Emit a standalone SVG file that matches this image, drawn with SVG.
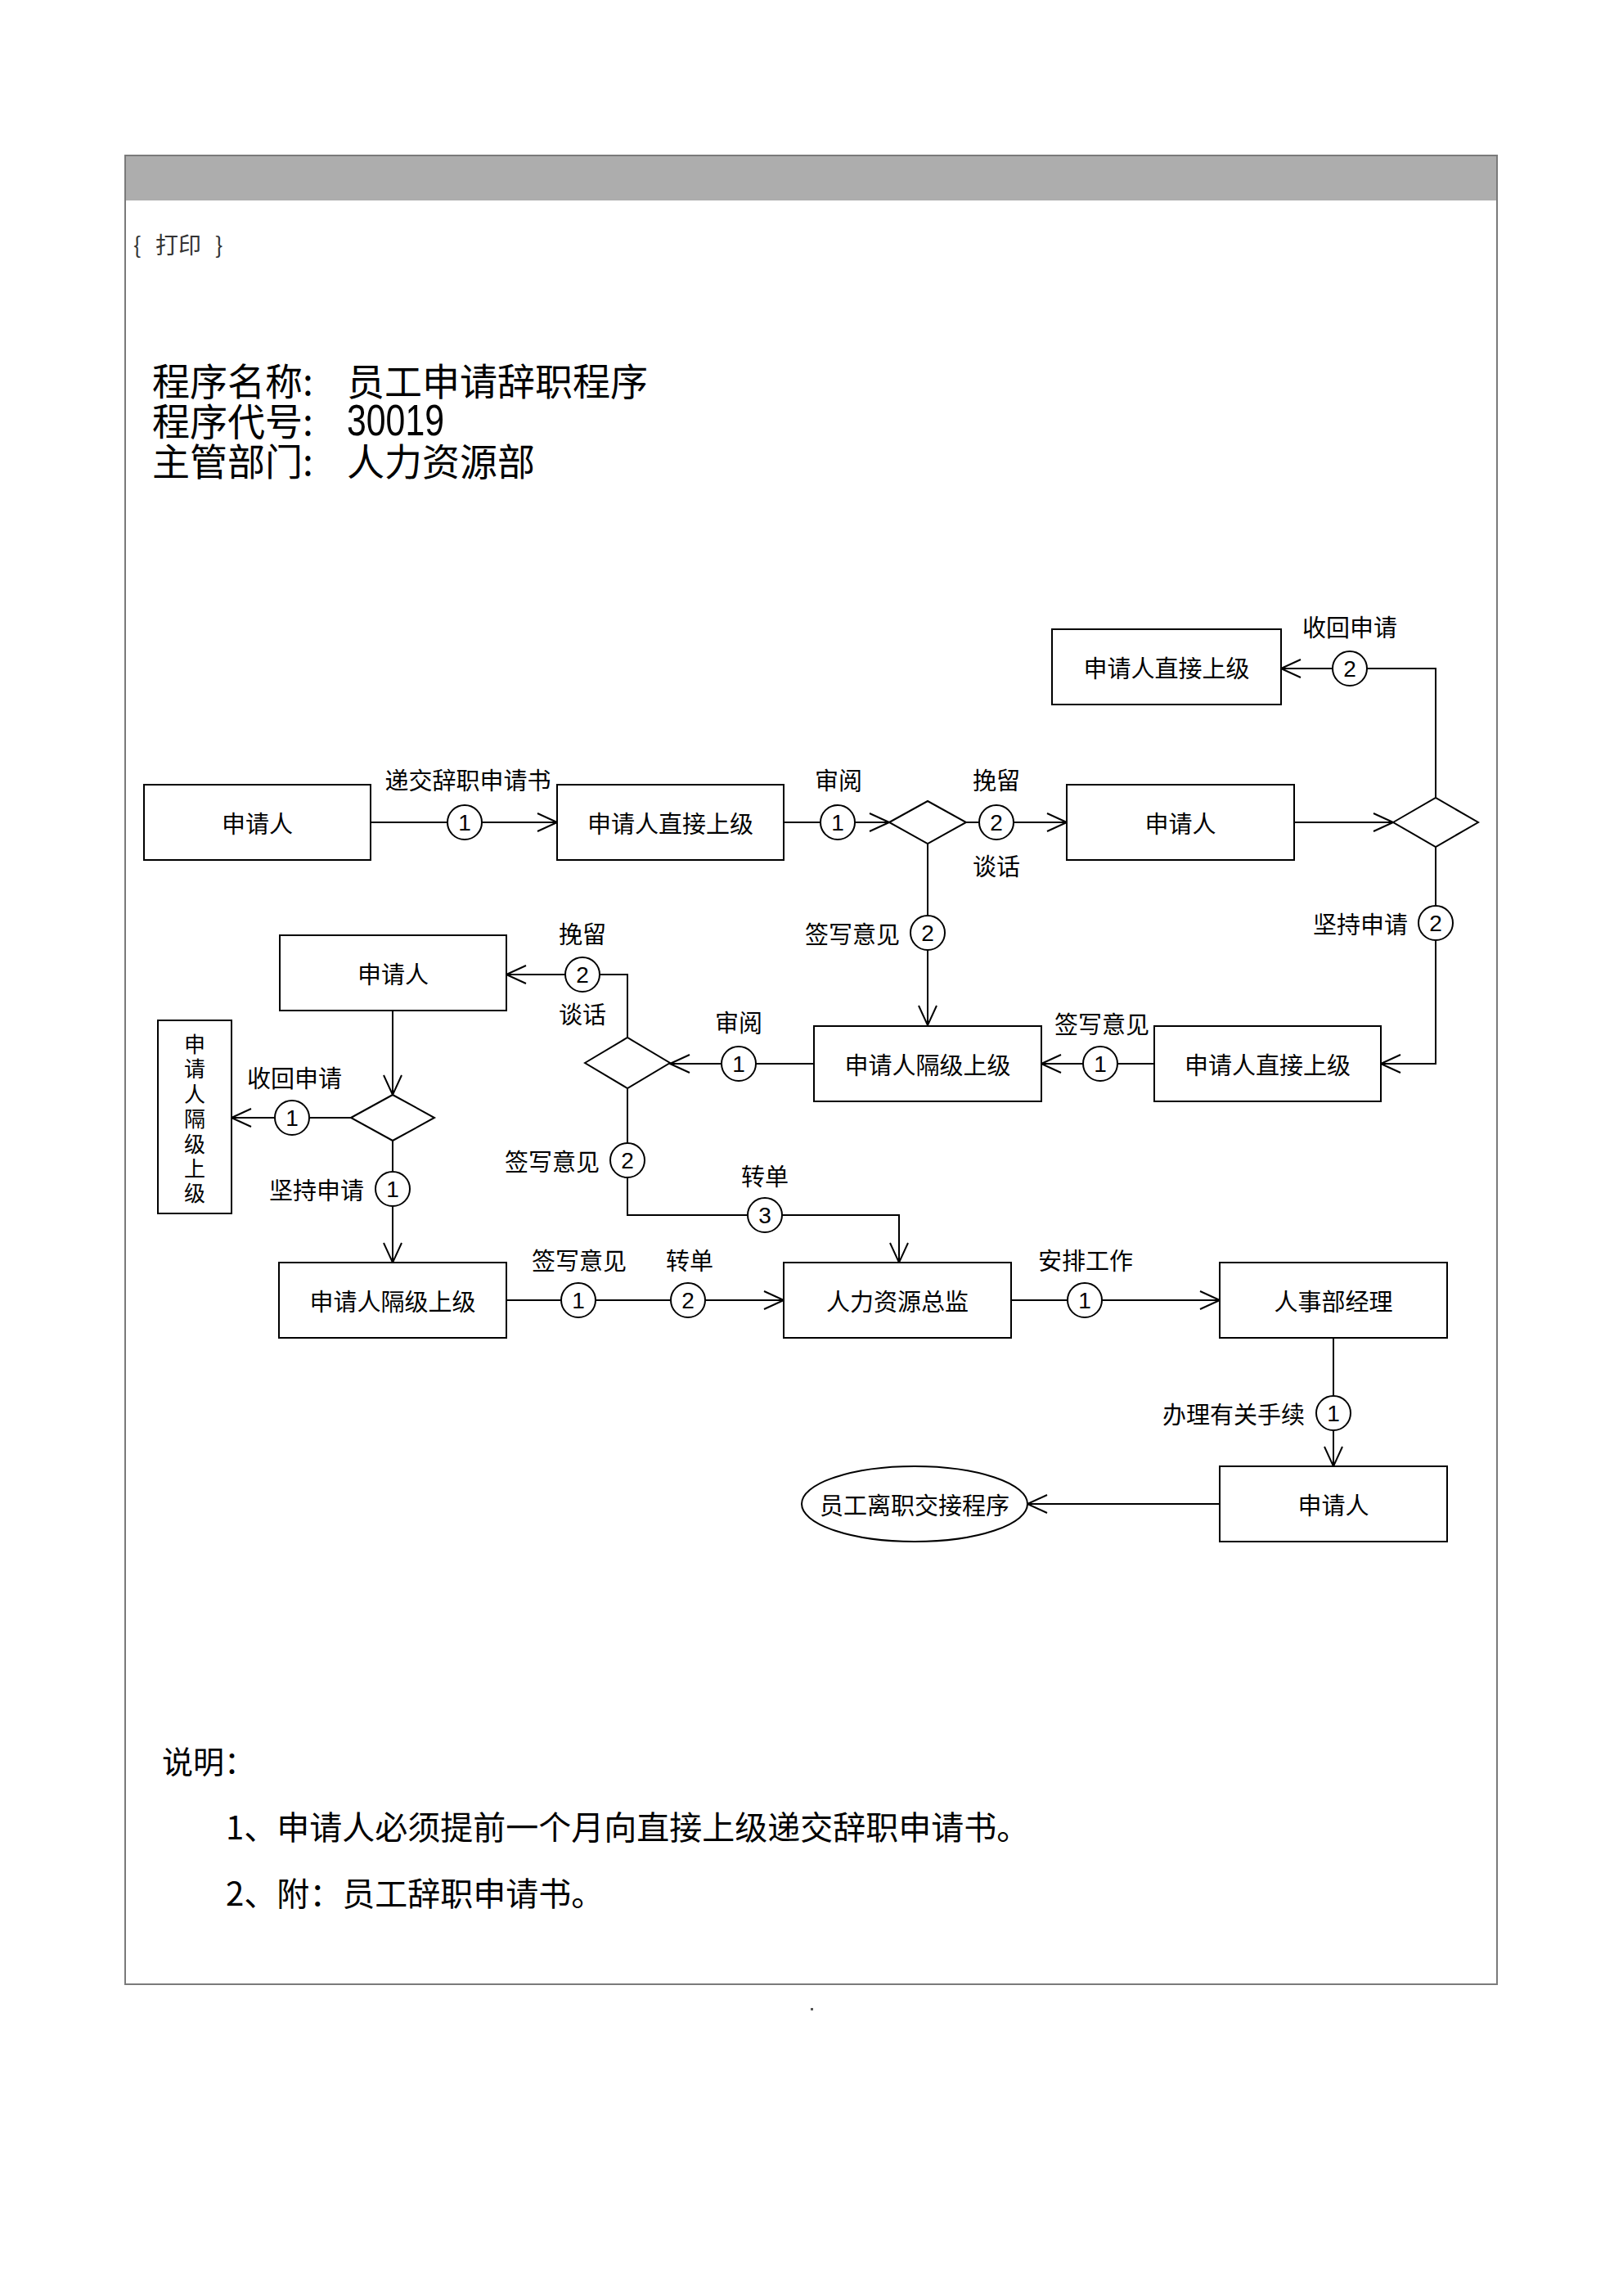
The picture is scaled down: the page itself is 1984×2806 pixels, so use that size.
<svg xmlns="http://www.w3.org/2000/svg" width="1984" height="2806" viewBox="0 0 1984 2806">
<defs>
<style>
.box{fill:#fff;stroke:#000;stroke-width:2}
.ln{fill:none;stroke:#000;stroke-width:2}
.arr{marker-end:url(#ah)}
.cir{fill:#fff;stroke:#000;stroke-width:2}
.lbl{font-family:"Noto Sans CJK SC","Noto Sans CJK JP",sans-serif;font-size:29px;fill:#000;text-anchor:middle;dominant-baseline:central}
.lend{text-anchor:end}
.vlbl{font-family:"Noto Sans CJK SC","Noto Sans CJK JP",sans-serif;font-size:26px;fill:#000;text-anchor:middle;dominant-baseline:central}
.num{font-family:"Liberation Sans",Arial,sans-serif;font-size:28px;fill:#000;text-anchor:middle;dominant-baseline:central}
.title{font-family:"Noto Sans CJK SC","Noto Sans CJK JP",sans-serif;font-size:46px;fill:#000;dominant-baseline:central}
.note{font-family:"Noto Sans CJK SC","Noto Sans CJK JP",sans-serif;font-size:40px;fill:#000;dominant-baseline:central}
</style>
<marker id="ah" markerUnits="userSpaceOnUse" markerWidth="28" markerHeight="26" viewBox="0 0 28 26" refX="26" refY="13" orient="auto">
<path d="M2,2 L26,13 L2,24" fill="none" stroke="#000" stroke-width="2"/>
</marker>
</defs>
<rect x="0" y="0" width="1984" height="2806" fill="#fff"/>

<g id="page">
<rect x="153" y="190" width="1677" height="2235" fill="none" stroke="#7a7a7a" stroke-width="2"/>
<rect x="154" y="191" width="1675" height="54" fill="#adadad"/>
<text style="font-family:'Noto Sans CJK SC',sans-serif;font-size:28px;fill:#333;dominant-baseline:central"><tspan x="163" y="298">{</tspan><tspan x="190" y="298">打印</tspan><tspan x="263" y="298">}</tspan></text>
<rect x="991" y="2454" width="3" height="3" fill="#555"/>
</g>

<g id="header">
<text class="title" x="186" y="463">程序名称:</text>
<text class="title" x="424" y="463">员工申请辞职程序</text>
<text class="title" x="186" y="512">程序代号:</text>
<text x="424" y="532" textLength="119" lengthAdjust="spacingAndGlyphs" style="font-family:'Liberation Sans',Arial,sans-serif;font-size:54px;fill:#000">30019</text>
<text class="title" x="186" y="561">主管部门:</text>
<text class="title" x="424" y="561">人力资源部</text>
</g>

<g id="connectors">
<line class="ln arr" x1="453" y1="1005" x2="681" y2="1005"/>
<line class="ln arr" x1="958" y1="1005" x2="1087" y2="1005"/>
<line class="ln arr" x1="1181" y1="1005" x2="1304" y2="1005"/>
<line class="ln arr" x1="1582" y1="1005" x2="1703" y2="1005"/>
<polyline class="ln arr" points="1755,975 1755,817 1566,817"/>
<polyline class="ln arr" points="1755,1035 1755,1300 1688,1300"/>
<line class="ln arr" x1="1411" y1="1300" x2="1273" y2="1300"/>
<line class="ln arr" x1="1134" y1="1031" x2="1134" y2="1253"/>
<line class="ln arr" x1="995" y1="1300" x2="819" y2="1300"/>
<polyline class="ln arr" points="767,1268 767,1191 619,1191"/>
<line class="ln arr" x1="480" y1="1235" x2="480" y2="1338"/>
<line class="ln arr" x1="429" y1="1366" x2="283" y2="1366"/>
<line class="ln arr" x1="480" y1="1394" x2="480" y2="1543"/>
<polyline class="ln arr" points="767,1330 767,1485 1099,1485 1099,1543"/>
<line class="ln arr" x1="619" y1="1589" x2="958" y2="1589"/>
<line class="ln arr" x1="1236" y1="1589" x2="1491" y2="1589"/>
<line class="ln arr" x1="1630" y1="1635" x2="1630" y2="1792"/>
<line class="ln arr" x1="1491" y1="1838" x2="1256" y2="1838"/>

<g id="conn-labels">
<circle class="cir" cx="568" cy="1005" r="21"/><text class="num" x="568" y="1005">1</text>
<text class="lbl" x="572" y="952">递交辞职申请书</text>
<circle class="cir" cx="1024" cy="1005" r="21"/><text class="num" x="1024" y="1005">1</text>
<text class="lbl" x="1025" y="952">审阅</text>
<circle class="cir" cx="1218" cy="1005" r="21"/><text class="num" x="1218" y="1005">2</text>
<text class="lbl" x="1218" y="952">挽留</text>
<text class="lbl" x="1218" y="1057">谈话</text>
<circle class="cir" cx="1650" cy="817" r="21"/><text class="num" x="1650" y="817">2</text>
<text class="lbl" x="1650" y="765">收回申请</text>
<circle class="cir" cx="1755" cy="1128" r="21"/><text class="num" x="1755" y="1128">2</text>
<text class="lbl lend" x="1721" y="1128">坚持申请</text>
<circle class="cir" cx="1345" cy="1300" r="21"/><text class="num" x="1345" y="1300">1</text>
<text class="lbl" x="1347" y="1250">签写意见</text>
<circle class="cir" cx="1134" cy="1140" r="21"/><text class="num" x="1134" y="1140">2</text>
<text class="lbl lend" x="1100" y="1140">签写意见</text>
<circle class="cir" cx="903" cy="1300" r="21"/><text class="num" x="903" y="1300">1</text>
<text class="lbl" x="903" y="1248">审阅</text>
<circle class="cir" cx="712" cy="1191" r="21"/><text class="num" x="712" y="1191">2</text>
<text class="lbl" x="712" y="1140">挽留</text>
<text class="lbl" x="712" y="1238">谈话</text>
<circle class="cir" cx="357" cy="1366" r="21"/><text class="num" x="357" y="1366">1</text>
<text class="lbl" x="360" y="1316">收回申请</text>
<circle class="cir" cx="480" cy="1453" r="21"/><text class="num" x="480" y="1453">1</text>
<text class="lbl lend" x="445" y="1453">坚持申请</text>
<circle class="cir" cx="767" cy="1418" r="21"/><text class="num" x="767" y="1418">2</text>
<text class="lbl lend" x="733" y="1418">签写意见</text>
<circle class="cir" cx="935" cy="1485" r="21"/><text class="num" x="935" y="1485">3</text>
<text class="lbl" x="935" y="1436">转单</text>
<circle class="cir" cx="707" cy="1589" r="21"/><text class="num" x="707" y="1589">1</text>
<text class="lbl" x="708" y="1539">签写意见</text>
<circle class="cir" cx="841" cy="1589" r="21"/><text class="num" x="841" y="1589">2</text>
<text class="lbl" x="843" y="1539">转单</text>
<circle class="cir" cx="1326" cy="1589" r="21"/><text class="num" x="1326" y="1589">1</text>
<text class="lbl" x="1327" y="1539">安排工作</text>
<circle class="cir" cx="1630" cy="1727" r="21"/><text class="num" x="1630" y="1727">1</text>
<text class="lbl lend" x="1595" y="1727">办理有关手续</text>
</g>
</g>

<g id="n-applicant-1"><rect class="box" x="176" y="959" width="277" height="92"/><text class="lbl" x="314.5" y="1005">申请人</text></g>
<g id="n-direct-1"><rect class="box" x="681" y="959" width="277" height="92"/><text class="lbl" x="819.5" y="1005">申请人直接上级</text></g>
<g id="d1"><polygon class="box" points="1087,1005 1134,979 1181,1005 1134,1031"/></g>
<g id="n-applicant-2"><rect class="box" x="1304" y="959" width="278" height="92"/><text class="lbl" x="1443" y="1005">申请人</text></g>
<g id="d2"><polygon class="box" points="1703,1005 1755,975 1807,1005 1755,1035"/></g>
<g id="n-direct-2"><rect class="box" x="1286" y="769" width="280" height="92"/><text class="lbl" x="1426" y="815">申请人直接上级</text></g>
<g id="n-direct-3"><rect class="box" x="1411" y="1254" width="277" height="92"/><text class="lbl" x="1549.5" y="1300">申请人直接上级</text></g>
<g id="n-skip-1"><rect class="box" x="995" y="1254" width="278" height="92"/><text class="lbl" x="1134" y="1300">申请人隔级上级</text></g>
<g id="d3"><polygon class="box" points="715,1299 767,1268 819,1299 767,1330"/></g>
<g id="n-applicant-3"><rect class="box" x="342" y="1143" width="277" height="92"/><text class="lbl" x="480.5" y="1189">申请人</text></g>
<g id="d4"><polygon class="box" points="429,1366 480,1338 531,1366 480,1394"/></g>
<g id="n-skip-vertical"><rect class="box" x="193" y="1247" width="90" height="236"/>
<text class="vlbl" x="238" y="1274">申</text>
<text class="vlbl" x="238" y="1304">请</text>
<text class="vlbl" x="238" y="1335">人</text>
<text class="vlbl" x="238" y="1365">隔</text>
<text class="vlbl" x="238" y="1396">级</text>
<text class="vlbl" x="238" y="1426">上</text>
<text class="vlbl" x="238" y="1456">级</text>
</g>
<g id="n-skip-2"><rect class="box" x="341" y="1543" width="278" height="92"/><text class="lbl" x="480" y="1589">申请人隔级上级</text></g>
<g id="n-hr-director"><rect class="box" x="958" y="1543" width="278" height="92"/><text class="lbl" x="1097" y="1589">人力资源总监</text></g>
<g id="n-hr-manager"><rect class="box" x="1491" y="1543" width="278" height="92"/><text class="lbl" x="1630" y="1589">人事部经理</text></g>
<g id="n-applicant-4"><rect class="box" x="1491" y="1792" width="278" height="92"/><text class="lbl" x="1630" y="1838">申请人</text></g>
<g id="n-handover"><ellipse class="box" cx="1118" cy="1838" rx="138" ry="46"/><text class="lbl" x="1118" y="1838">员工离职交接程序</text></g>

<g id="notes">
<text class="note" x="198" y="2150" style="font-size:38px">说明：</text>
<text class="note" x="276" y="2231">1、申请人必须提前一个月向直接上级递交辞职申请书。</text>
<text class="note" x="276" y="2312">2、附：员工辞职申请书。</text>
</g>
</svg>
